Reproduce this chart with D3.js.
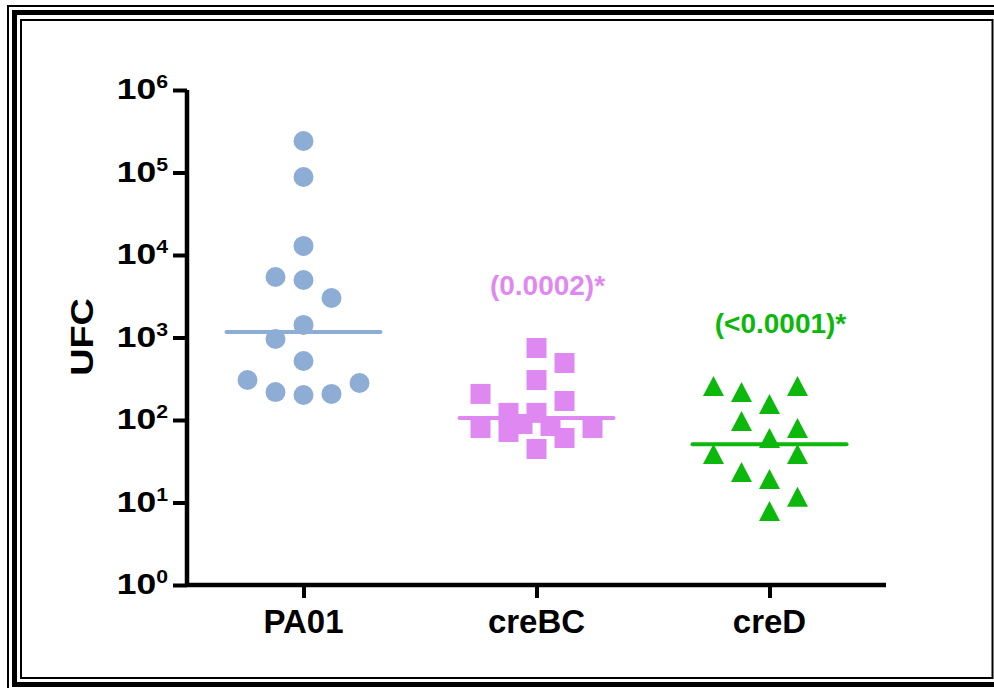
<!DOCTYPE html>
<html>
<head>
<meta charset="utf-8">
<script src="https://cdn.jsdelivr.net/npm/d3@7"></script>
<style>
  body { margin: 0; background: #fff; }
  text { font-family: "Liberation Sans", Arial, sans-serif; font-weight: bold; }
</style>
</head>
<body>
<script>
// groups and their colours
const groups = ['PA01', 'creBC', 'creD'];
const colors = ['#8eadd5', '#df88f2', '#0cb80c'];
const shapes = ['circle', 'square', 'triangle'];

// UFC values, with the horizontal slot each dot sits in
const pa01Values = [241000, 88200, 12900, 5410, 4980, 3010, 1420, 959, 519, 305, 218, 201, 207, 281];
const pa01Slots  = [0, 0, 0, -1, 0, 1, 0, -1, 0, -2, -1, 0, 1, 2];

const crebcValues = [746, 491, 305, 207, 170, 122, 122, 80, 71.5, 89.5, 84.6, 60.5, 44.5, 80];
const crebcSlots  = [0, 1, 0, -2, 1, -1, 0, -2, -1, -0.5, 0.5, 1, 0, 2];

const credValues = [258, 218, 258, 156, 97, 80, 60.5, 38.7, 38.7, 23.4, 19.3, 11.7, 7.9];
const credSlots  = [-2, -1, 1, 0, -1, 1, 0, -2, 1, -1, 0, 1, 0];

// median lines
const medians = [1166, 106, 51];

// p-value annotations
const pLabels = [null, '(0.0002)*', '(<0.0001)*'];

const yTicks = [1, 10, 100, 1000, 10000, 100000, 1000000];

const W = 994, H = 688;
const margin = { top: 90, right: 108, bottom: 103, left: 187 };

const svg = d3.select('body').append('svg')
  .attr('width', W)
  .attr('height', H);

// triple border frame
svg.append('rect').attr('x', 8).attr('y', 6).attr('width', 1000).attr('height', 700)
  .attr('fill', 'none').attr('stroke', '#000').attr('stroke-width', 2);
svg.append('rect').attr('x', 14.5).attr('y', 12.5).attr('width', 985).attr('height', 672)
  .attr('fill', 'none').attr('stroke', '#000').attr('stroke-width', 5);
svg.append('rect').attr('x', 21).attr('y', 20).attr('width', 971.5).attr('height', 658)
  .attr('fill', '#fff').attr('stroke', '#000').attr('stroke-width', 2);

const x = d3.scalePoint()
  .domain(groups)
  .range([margin.left, W - margin.right])
  .padding(0.5);

const y = d3.scaleLog()
  .domain([1, 1e6])
  .range([H - margin.bottom, margin.top]);

const slot = d3.scaleLinear().domain([-1, 1]).range([-28, 28]);

const series = [
  { values: pa01Values, slots: pa01Slots },
  { values: crebcValues, slots: crebcSlots },
  { values: credValues, slots: credSlots },
];

// axes
const yAxis = svg.append('g')
  .attr('transform', `translate(${margin.left},0)`)
  .call(d3.axisLeft(y).tickValues(yTicks).tickSize(14).tickFormat(''));
yAxis.select('.domain').attr('d', `M0,${y(1e6)}V${y(1)}`);

const xAxis = svg.append('g')
  .attr('transform', `translate(0,${y(1)})`)
  .call(d3.axisBottom(x).tickSize(13).tickFormat(''));
xAxis.select('.domain').attr('d', `M${margin.left},0H${W - margin.right}`);

svg.selectAll('.domain').attr('stroke', '#000').attr('stroke-width', 4.5);
svg.selectAll('.tick line').attr('stroke', '#000').attr('stroke-width', 4);

// y tick labels 10^n (font is a bit wider than Arial in the original)
yTicks.forEach(t => {
  const lab = svg.append('text')
    .attr('transform', `translate(168,${y(t) + 9}) scale(1.18,1)`)
    .attr('text-anchor', 'end')
    .attr('font-size', 30)
    .attr('fill', '#000');
  lab.append('tspan').text('10');
  lab.append('tspan')
    .attr('font-size', 18)
    .attr('dy', -11)
    .text(Math.round(Math.log10(t)));
});

// x category labels
svg.selectAll('.xlab')
  .data(groups)
  .join('text')
  .attr('class', 'xlab')
  .attr('x', d => x(d))
  .attr('y', 633)
  .attr('text-anchor', 'middle')
  .attr('font-size', 33)
  .attr('fill', '#000')
  .text(d => d);

// y axis title
svg.append('text')
  .attr('transform', 'translate(93,337) rotate(-90) scale(1.18,1)')
  .attr('text-anchor', 'middle')
  .attr('font-size', 32)
  .attr('fill', '#000')
  .text('UFC');

// marker path builders
function markerPath(shape) {
  if (shape === 'circle') return d3.symbol(d3.symbolCircle, Math.PI * 10 * 10)();
  if (shape === 'square') return 'M-10,-10H10V10H-10Z';
  return 'M0,-10L10.5,10H-10.5Z';
}

series.forEach((s, i) => {
  const g = groups[i];
  const cx = x(g);

  svg.append('g')
    .selectAll('path')
    .data(s.values)
    .join('path')
    .attr('d', markerPath(shapes[i]))
    .attr('transform', (v, j) => `translate(${cx + slot(s.slots[j])},${y(v)})`)
    .attr('fill', colors[i]);

  // median line
  svg.append('line')
    .attr('x1', cx - 77)
    .attr('x2', cx + 77)
    .attr('y1', y(medians[i]))
    .attr('y2', y(medians[i]))
    .attr('stroke', colors[i])
    .attr('stroke-width', 4)
    .attr('stroke-linecap', 'round');

  if (pLabels[i]) {
    svg.append('text')
      .attr('x', cx + 11)
      .attr('y', y(d3.max(s.values)) - 53)
      .attr('text-anchor', 'middle')
      .attr('font-size', 28)
      .attr('fill', colors[i])
      .text(pLabels[i]);
  }
});
</script>
</body>
</html>
